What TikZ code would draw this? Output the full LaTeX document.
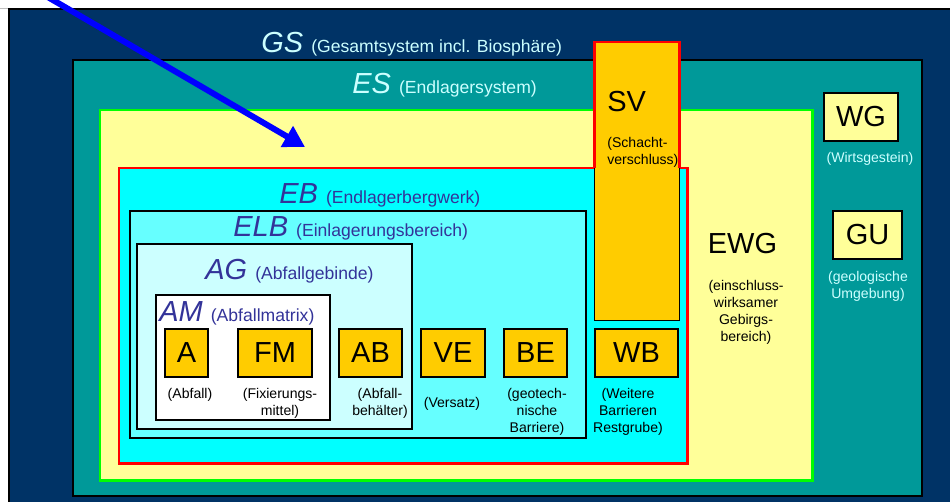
\documentclass[tikz,border=0pt]{standalone}
\usepackage{fontspec}
\setmainfont{Liberation Sans}
\usepackage{tikz}
\usetikzlibrary{arrows.meta}

\definecolor{gsblau}{HTML}{003366}
\definecolor{estuerkis}{HTML}{009999}
\definecolor{ewggelb}{HTML}{FFFF99}
\definecolor{ebcyan}{HTML}{00FFFF}
\definecolor{elbcyan}{HTML}{66FFFF}
\definecolor{agcyan}{HTML}{CCFFFF}
\definecolor{kastenorange}{HTML}{FFCC00}
\definecolor{titelblau}{HTML}{333399}
\definecolor{titelhell}{HTML}{CCFFFF}
\newcommand{\zusatz}{\fontsize{10}{12}\selectfont}

\begin{document}
\begin{tikzpicture}[x=0.02cm, y=-0.02cm,
  rahmen/.style={draw=black, line width=0.6pt},
  kasten/.style={draw=black, line width=0.6pt, fill=kastenorange, inner sep=0,
    minimum height=0.96cm, font=\fontsize{16.5}{19}\selectfont},
  titel/.style={anchor=base west, inner sep=0, font=\fontsize{16.5}{19}\selectfont},
  notiz/.style={anchor=north, inner sep=0, align=center, font=\fontsize{8}{9.6}\selectfont}]
\useasboundingbox (0,0) rectangle (950,501);
\fill[white] (0,0) rectangle (950,501);
\draw[black!25] (0,8.5) -- (950,8.5);
\draw[rahmen, fill=gsblau] (9,9) rectangle (960,510);
\draw[rahmen, fill=estuerkis] (73,60) rectangle (922,496);
\draw[draw=green, line width=1.7pt, fill=ewggelb] (100,110) rectangle (812,480);
\draw[draw=red, line width=1.7pt, fill=ebcyan] (119,168) rectangle (687,463);
\draw[rahmen, fill=elbcyan] (130,211) rectangle (586,438);
\draw[rahmen, fill=agcyan] (137,244) rectangle (412,429);
\draw[rahmen, fill=white] (156,295) rectangle (330,420);
\node[kasten, minimum width=1.7cm, minimum height=5.56cm, anchor=north west] (SV) at (594,42) {};
\draw[red, line width=1.7pt] (594,168) |- (679,42) -- (679,168);
\node[titel] (SV-kurz) at (607,111) {SV};
\node[notiz, anchor=north west, align=left] (SV-txt) at (607,137) {(Schacht-\\verschluss)};
\node[titel, text=titelhell] (GS) at (261,52) {{\itshape GS} {\zusatz(Gesamtsystem incl. Biosphäre)}};
\node[titel, text=titelhell] (ES) at (352,93) {{\itshape ES} {\zusatz(Endlagersystem)}};
\node[titel, text=titelblau] (EB) at (279,203) {{\itshape EB} {\zusatz(Endlagerbergwerk)}};
\node[titel, text=titelblau] (ELB) at (233,236) {{\itshape ELB} {\zusatz(Einlagerungsbereich)}};
\node[titel, text=titelblau] (AG) at (205,279) {{\itshape AG} {\zusatz(Abfallgebinde)}};
\node[titel, text=titelblau] (AM) at (159,321) {{\itshape AM} {\zusatz(Abfallmatrix)}};
\foreach \name/\x/\w in {A/186.5/0.86, FM/275/1.48, AB/370.5/1.26, VE/453/1.28, BE/535.5/1.26, WB/636.5/1.66}
  \node[kasten, minimum width=\w cm] (\name) at (\x,353) {\name};
\node[notiz] (A-txt) at (190,388) {(Abfall)};
\node[notiz] (FM-txt) at (280,388) {(Fixierungs-\\mittel)};
\node[notiz] (AB-txt) at (380,388) {(Abfall-\\behälter)};
\node[notiz] (VE-txt) at (452,397) {(Versatz)};
\node[notiz] (BE-txt) at (537,388) {(geotech-\\nische\\Barriere)};
\node[notiz] (WB-txt) at (628,388) {(Weitere\\Barrieren\\Restgrube)};
\node[titel, anchor=base] (EWG) at (742.5,253) {EWG};
\node[notiz] (EWG-txt) at (746,280) {(einschluss-\\wirksamer\\Gebirgs-\\bereich)};
\node[kasten, fill=ewggelb, minimum width=1.48cm] (WG) at (861,117) {WG};
\node[notiz, text=titelhell] (WG-txt) at (870,152) {(Wirtsgestein)};
\node[kasten, fill=ewggelb, minimum width=1.38cm] (GU) at (867.5,235) {GU};
\node[notiz, text=titelhell] (GU-txt) at (868,271) {(geologische\\Umgebung)};
\coordinate (pfeilstart) at (46,-4);
\coordinate (pfeilziel) at (305,147);
\draw[blue, line width=3.4pt, -{Triangle[length=0.42cm, width=0.46cm]}] (pfeilstart) -- (pfeilziel);
\end{tikzpicture}
\end{document}
